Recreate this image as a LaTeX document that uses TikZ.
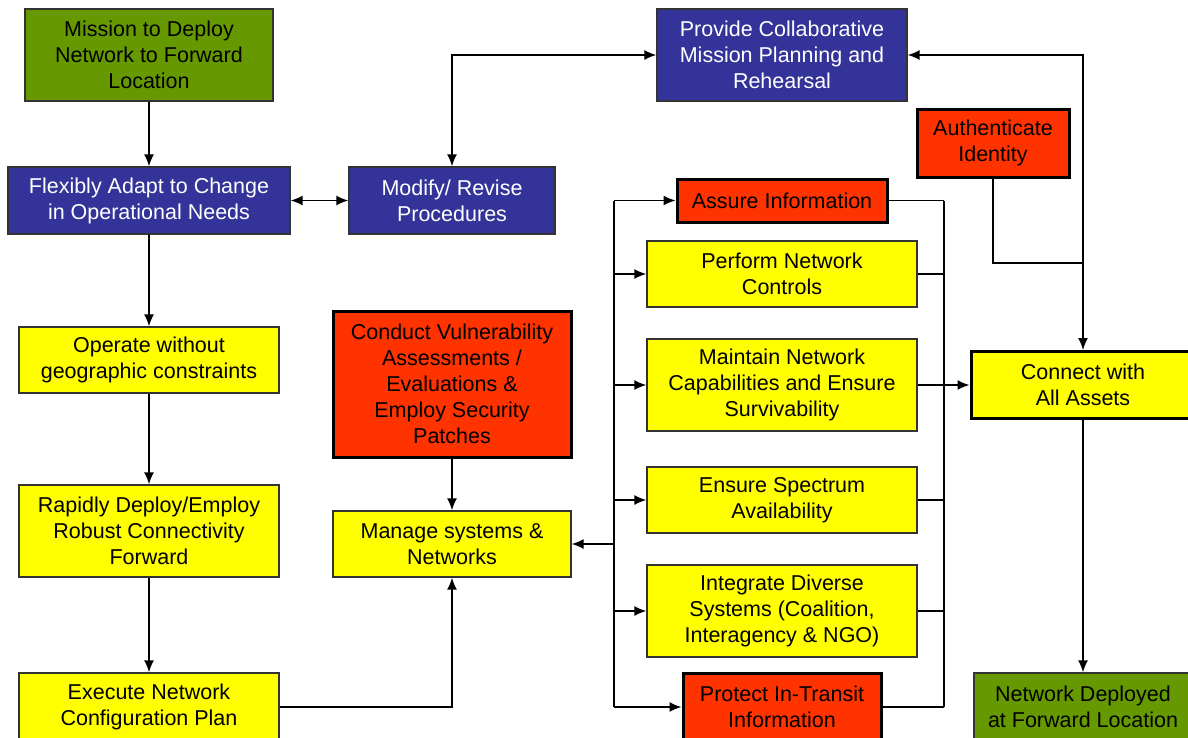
\documentclass[tikz,border=0pt]{standalone}
\usepackage{fontspec}
\setmainfont{Liberation Sans}
\usetikzlibrary{arrows.meta}
\definecolor{fgreen}{HTML}{669900}
\definecolor{fblue}{HTML}{333399}
\definecolor{fred}{HTML}{FF3300}
\definecolor{fyellow}{HTML}{FFFF00}
\begin{document}
\begin{tikzpicture}[x=1pt,y=-1pt,
  box/.style={draw=black!80, line width=1.3pt, align=center, inner sep=0pt,
    font=\fontsize{21.5}{26}\selectfont},
  greenbox/.style={box, fill=fgreen},
  bluebox/.style={box, fill=fblue, text=white},
  yellowbox/.style={box, fill=fyellow},
  redbox/.style={box, fill=fred, draw=black, line width=3pt},
  sz/.style 2 args={minimum width=#1pt, minimum height=#2pt},
  link/.style={line width=1.6pt, draw=black},
  arr/.style={link, -{Latex[length=12pt,width=10pt]}},
  darr/.style={link, {Latex[length=12pt,width=10pt]}-{Latex[length=12pt,width=10pt]}}
]
\clip (0,0) rectangle (1188,737);
\fill[white] (0,0) rectangle (1188,737);

% left column
\node[greenbox, sz={248}{92}] (mission) at (149,55) {Mission to Deploy\\Network to Forward\\Location};
\node[bluebox, sz={282}{67}] (flex) at (149,200.5) {Flexibly Adapt to Change\\in Operational Needs};
\node[yellowbox, sz={260}{66}] (operate) at (149,360) {Operate without\\geographic constraints};
\node[yellowbox, sz={260}{92}] (rapidly) at (149,531) {Rapidly Deploy/Employ\\Robust Connectivity\\Forward};
\node[yellowbox, sz={260}{68}] (execute) at (149,707) {Execute Network\\Configuration Plan};

% second column
\node[bluebox, sz={206}{67}] (modify) at (452,200.5) {Modify/ Revise\\Procedures};
\node[redbox, sz={238}{146}] (conduct) at (452,384) {Conduct Vulnerability\\Assessments /\\Evaluations \&\\Employ Security\\Patches};
\node[yellowbox, sz={238}{66}] (manage) at (452,544) {Manage systems \&\\Networks};

% centre column
\node[bluebox, sz={250}{92}] (provide) at (782,55) {Provide Collaborative\\Mission Planning and\\Rehearsal};
\node[redbox, sz={210}{43}] (assure) at (782,200.5) {Assure Information};
\node[yellowbox, sz={270}{66}] (perform) at (782,274) {Perform Network\\Controls};
\node[yellowbox, sz={270}{92}] (maintain) at (782,385) {Maintain Network\\Capabilities and Ensure\\Survivability};
\node[yellowbox, sz={270}{66}] (ensure) at (782,500) {Ensure Spectrum\\Availability};
\node[yellowbox, sz={270}{92}] (integrate) at (782,611) {Integrate Diverse\\Systems (Coalition,\\Interagency \& NGO)};
\node[redbox, sz={198}{68}] (protect) at (782,707) {Protect In-Transit\\Information};

% right column
\node[redbox, sz={152}{68}] (auth) at (993,143) {Authenticate\\Identity};
\node[yellowbox, draw=black, line width=3pt, sz={224}{67}] (connect) at (1083,385) {Connect with\\All Assets};
\node[greenbox, sz={218}{68}] (deployed) at (1083,707) {Network Deployed\\at Forward Location};

% bus lines either side of the centre column
\coordinate (busL) at (614,0);
\coordinate (busR) at (944,0);
\coordinate (authj) at (1083,263);

% main flow down the left
\draw[arr] (mission) -- (flex);
\draw[darr] (flex) -- (modify);
\draw[darr] (modify.north) |- (provide.west);
\draw[darr] (provide.east) -| (connect.north);
\draw[arr] (flex) -- (operate);
\draw[arr] (operate) -- (rapidly);
\draw[arr] (rapidly) -- (execute);
\draw[arr] (execute.east) -| (manage.south);
\draw[arr] (conduct) -- (manage);

% left bus feeding the centre column
\draw[link] (busL |- assure.west) -- (busL |- protect.west);
\draw[arr] (busL |- manage.east) -- (manage.east);
\draw[arr] (busL |- assure.west) -- (assure.west);
\draw[arr] (busL |- perform.west) -- (perform.west);
\draw[arr] (busL |- maintain.west) -- (maintain.west);
\draw[arr] (busL |- ensure.west) -- (ensure.west);
\draw[arr] (busL |- integrate.west) -- (integrate.west);
\draw[arr] (busL |- protect.west) -- (protect.west);

% right bus collecting the centre column
\draw[link] (busR |- assure.east) -- (busR |- protect.east);
\draw[link] (assure.east) -- (busR |- assure.east);
\draw[link] (perform.east) -- (busR |- perform.east);
\draw[link] (ensure.east) -- (busR |- ensure.east);
\draw[link] (integrate.east) -- (busR |- integrate.east);
\draw[link] (protect.east) -- (busR |- protect.east);
\draw[arr] (maintain.east) -- (connect.west);

% identity check joins the right-hand line
\draw[link] (auth.south) |- (authj);
\draw[arr] (connect) -- (deployed);
\end{tikzpicture}
\end{document}
